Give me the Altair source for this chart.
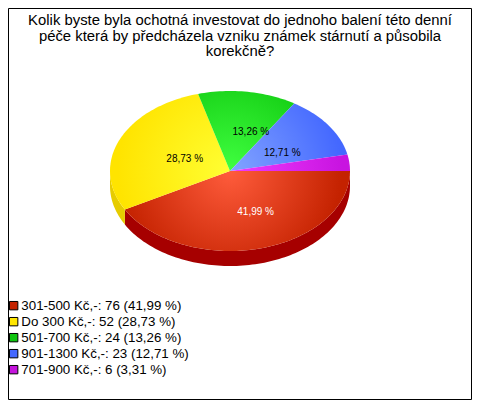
import math
import altair as alt
import pandas as pd

CATEGORIES = ["301-500 Kč,-", "Do 300 Kč,-", "501-700 Kč,-", "901-1300 Kč,-", "701-900 Kč,-"]
COUNTS = [76, 52, 24, 23, 6]
PERCENTS = ["41,99", "28,73", "13,26", "12,71", "3,31"]
TITLE_LINES = [
    "Kolik byste byla ochotná investovat do jednoho balení této denní",
    "péče která by předcházela vzniku známek stárnutí a působila",
    "korekčně?",
]

FONT = "Liberation Sans"
LEGEND_COLORS = ["#C42200", "#FFE600", "#0FC40F", "#4468FF", "#C414DC"]
LIGHT = ["#FF5C3C", "#FFFF33", "#40FF40", "#82A4FF", "#F03CFF"]
DARK = ["#C42200", "#FFE400", "#0FC80F", "#4468FF", "#C814E0"]
RIM = ["#A60000", "#E6CC00", None, None, None]
LABEL_RADIUS = [0.54, 0.41, 0.5, 0.5, None]
LABEL_DX = [9.5, 0, 12, 3, 0]
LABEL_DY = [-1, 1, 1, 5, 0]
LABEL_COLOR = ["white", "black", "black", "black", None]
A, B, DEPTH, GRAD_R = 120, 80, 15, 112

legend_labels = [f"{c}: {n} ({p} %)" for c, n, p in zip(CATEGORIES, COUNTS, PERCENTS)]
total = sum(COUNTS)

x_scale = alt.Scale(domain=[-1, 1], range=[102, 342])
y_scale = alt.Scale(domain=[-1, 1], range=[83, 243])
X = alt.X("x:Q", scale=x_scale, axis=None)
Y = alt.Y("y:Q", scale=y_scale, axis=None)


def sweep(a0, a1):
    n = max(2, int(abs(a1 - a0) / 1.5) + 1)
    return [a0 + (a1 - a0) * i / n for i in range(n + 1)]


layers = []
tops, labels = [], []
start = 0.0
for i, count in enumerate(COUNTS):
    end = start + 360.0 * count / total
    rad = [math.radians(a) for a in sweep(start, end)]
    pts = [(0.0, 0.0)] + [(math.cos(t), math.sin(t)) for t in rad]
    xs = [p[0] * A for p in pts]
    ys = [p[1] * B for p in pts]
    w, h = max(xs) - min(xs), max(ys) - min(ys)
    s = max(w, h)
    u = 0.5 + (0 - (min(xs) + max(xs)) / 2) / s
    v = 0.5 + (0 - (min(ys) + max(ys)) / 2) / s
    grad = alt.RadialGradient(
        gradient="radial", x1=u, y1=v, r1=0, x2=u, y2=v, r2=GRAD_R / s,
        stops=[alt.GradientStop(offset=0, color=LIGHT[i]), alt.GradientStop(offset=1, color=DARK[i])],
    )
    tops.append(
        alt.Chart(pd.DataFrame({"x": [p[0] for p in pts], "y": [p[1] for p in pts], "o": range(len(pts))}))
        .mark_line(fill=grad, strokeOpacity=0, strokeWidth=0, clip=False)
        .encode(x=X, y=Y, order="o:Q")
    )
    if RIM[i]:
        stop = min(end, 180.0)
        arc = [math.radians(a) for a in sweep(start, stop)]
        d = DEPTH / B
        ring = [(math.cos(t), math.sin(t)) for t in arc] + [
            (math.cos(t), math.sin(t) + d) for t in reversed(arc)
        ]
        layers.append(
            alt.Chart(pd.DataFrame({"x": [p[0] for p in ring], "y": [p[1] for p in ring], "o": range(len(ring))}))
            .mark_line(fill=RIM[i], strokeOpacity=0, strokeWidth=0)
            .encode(x=X, y=Y, order="o:Q")
        )
    if LABEL_RADIUS[i] is not None:
        mid = math.radians((start + end) / 2)
        labels.append(
            alt.Chart(pd.DataFrame({
                "x": [math.cos(mid) * LABEL_RADIUS[i]],
                "y": [math.sin(mid) * LABEL_RADIUS[i]],
                "t": [PERCENTS[i] + " %"],
            }))
            .mark_text(font=FONT, fontSize=10, color=LABEL_COLOR[i], dx=LABEL_DX[i], dy=LABEL_DY[i])
            .encode(x=X, y=Y, text="t:N")
        )
    start = end

legend_layer = (
    alt.Chart(pd.DataFrame({"label": legend_labels, "x": [0.0] * 5, "y": [0.0] * 5}))
    .mark_square(opacity=0)
    .encode(
        x=X, y=Y,
        fill=alt.Fill(
            "label:N",
            sort=legend_labels,
            scale=alt.Scale(domain=legend_labels, range=LEGEND_COLORS),
            legend=alt.Legend(
                title=None, orient="none", legendX=-1, legendY=291, direction="vertical",
                labelFont=FONT, labelFontSize=13.33, labelColor="black", labelLimit=400, labelOffset=1,
                symbolType="square", symbolSize=70, symbolOpacity=1, symbolStrokeColor="black",
                symbolStrokeWidth=1, rowPadding=2.0, padding=0,
            ),
        ),
    )
)

chart = (
    alt.layer(*layers, *tops, *labels, legend_layer)
    .properties(
        width=463, height=391,
        padding={"left": 0, "top": 0, "right": 1, "bottom": 1},
        autosize=alt.AutoSizeParams(type="none"),
        background="white",
        title=alt.TitleParams(
            text=TITLE_LINES, font=FONT, fontSize=14.87, fontWeight="normal", color="black",
            lineHeight=15.5, anchor="middle", baseline="top", dy=51, dx=0.5, offset=0,
        ),
    )
    .configure_view(stroke="black", strokeWidth=1, fill="white")
)

chart.save("out.html", embed_options={"renderer": "svg", "actions": False})
